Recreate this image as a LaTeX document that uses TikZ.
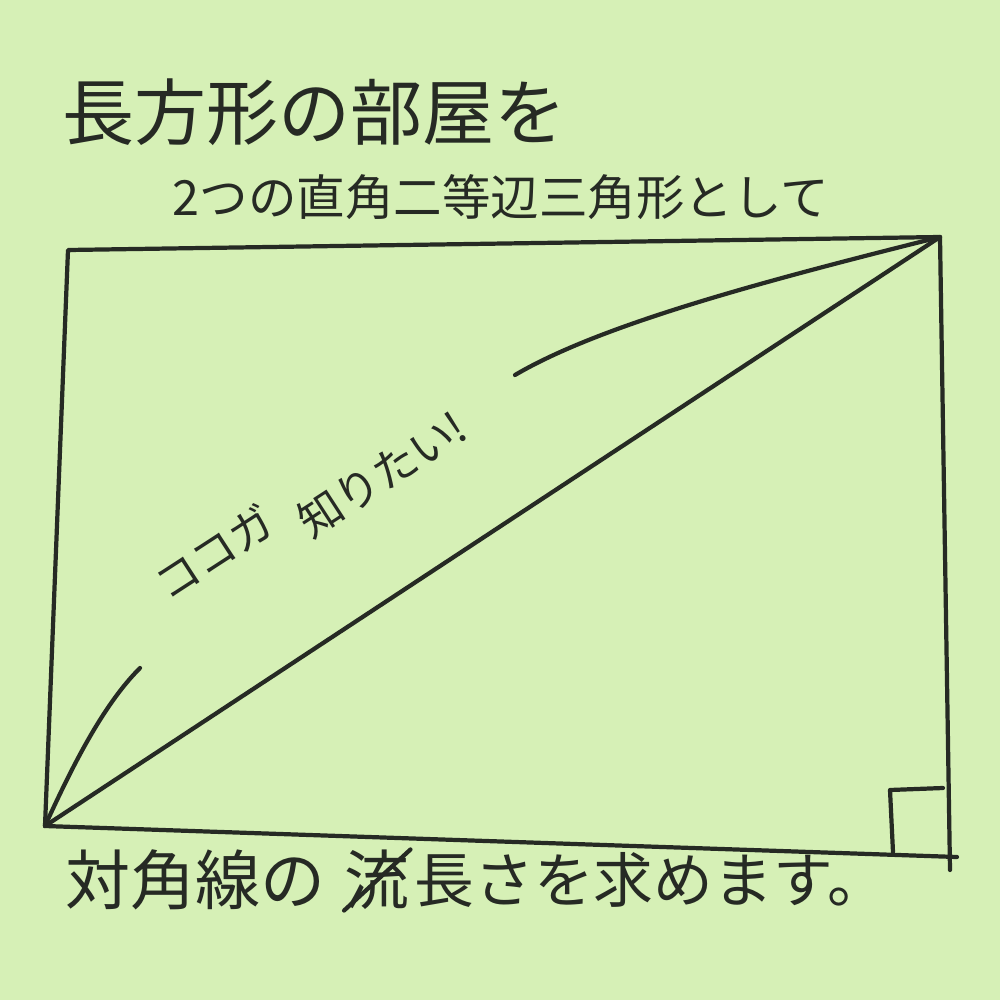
\documentclass[tikz,border=0pt]{standalone}
\usepackage{fontspec}
\usepackage{xcolor}
\usetikzlibrary{positioning}
\newfontfamily\jpfont{Noto Sans CJK JP}
\definecolor{paper}{RGB}{214,240,182}
\definecolor{ink}{RGB}{38,42,36}

\begin{document}
\begin{tikzpicture}[x=0.1mm,y=-0.1mm,
  pen/.style={draw=ink,line width=1.2pt,line cap=round,line join=round},
  memo/.style={text=ink,inner sep=0pt,font=\jpfont\fontsize{#1}{#1}\selectfont}]
  % the sheet of paper
  \fill[paper] (0,0) rectangle (1000,1000);

  % heading
  \node[memo=20.5,anchor=west] (title) at (62,112) {長方形の部屋を};
  \node[memo=13.8,anchor=west] (sub) at (172,197) {2つの直角二等辺三角形として};

  % corners of the room
  \coordinate (tl) at (68,250);
  \coordinate (tr) at (940,237);
  \coordinate (br) at (950,870);
  \coordinate (bl) at (45,826);
  \coordinate (bx) at (957,857);
  \draw[pen] (bl) -- (tl) -- (tr) -- (br);
  \draw[pen] (bl) -- (bx);

  % right angle mark
  \coordinate (ra1) at (893,852);
  \coordinate (ra2) at (890,790);
  \coordinate (ra3) at (943,788);
  \draw[pen] (ra1) -- (ra2) -- (ra3);

  % diagonal and its bracket
  \draw[pen] (bl) -- (tr);
  \coordinate (arcA) at (140,668);
  \coordinate (arcB) at (515,375);
  \draw[pen] (bl) .. controls (75,760) and (105,703) .. (arcA);
  \draw[pen] (arcB) .. controls (600,325) and (760,282) .. (tr);
  \node[memo=12.5,rotate=33] (here) at (214,552) {ココガ};
  \node[memo=12.5,rotate=33] (want) at (382,474) {知りたい!};

  % bottom line
  \node[memo=18.5,anchor=west] (diag) at (65,880) {対角線の};
  \node[memo=18.5,right=5pt of diag] (struck) {流};
  \node[memo=17,right=1pt of struck] (rest) {長さを求めます。};
  \draw[pen] (struck.south west) -- (struck.north east);
\end{tikzpicture}
\end{document}
